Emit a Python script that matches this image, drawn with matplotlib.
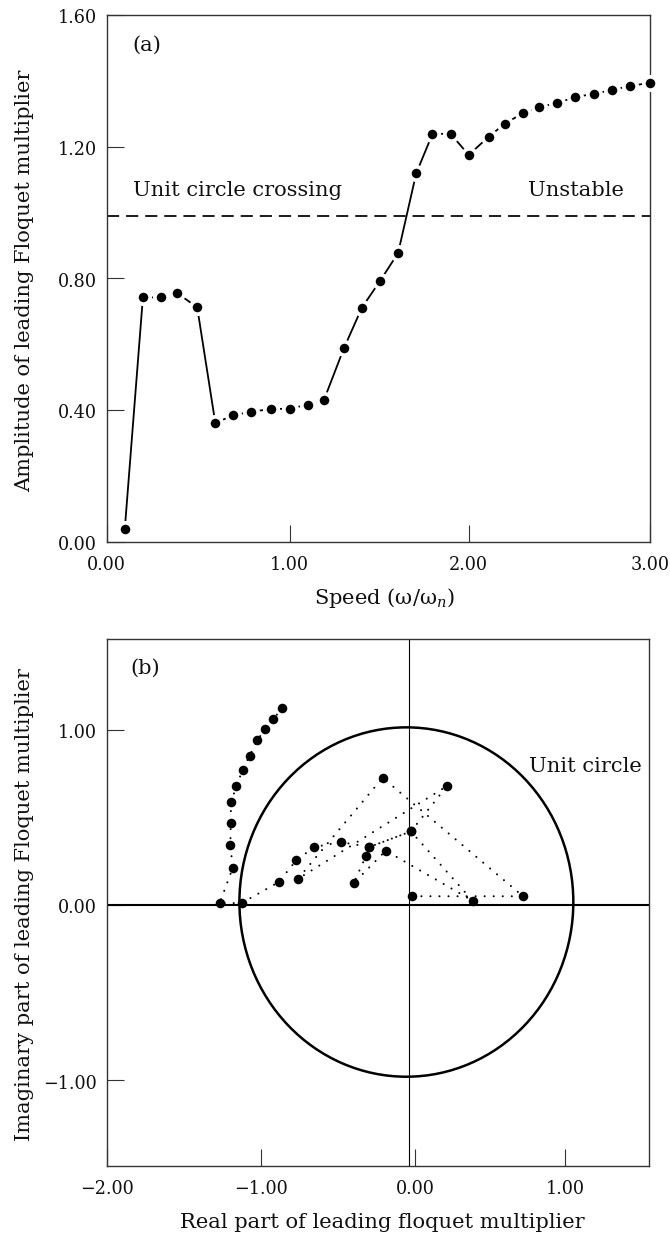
import matplotlib
matplotlib.use("Agg")
import matplotlib.pyplot as plt
from matplotlib.patches import Ellipse
from matplotlib.transforms import ScaledTranslation

FONT = "DejaVu Serif"
FS = 12.7
FL = 15.1
plt.rcParams["font.family"] = [FONT]
plt.rcParams["mathtext.fontset"] = "custom"
plt.rcParams["mathtext.rm"] = FONT
plt.rcParams["mathtext.it"] = FONT + ":italic"

W, H = 670, 1237
TXT = "#111111"
FRAME = "#333333"

# Panel (a)
speed = [0.1, 0.2, 0.3, 0.39, 0.5, 0.6, 0.7, 0.8, 0.91, 1.01, 1.11, 1.2, 1.31, 1.41, 1.51,
         1.61, 1.71, 1.8, 1.9, 2.0, 2.11, 2.2, 2.3, 2.39, 2.49, 2.59, 2.69, 2.79, 2.89, 3.0]
amplitude = [0.039, 0.742, 0.742, 0.755, 0.712, 0.361, 0.384, 0.395, 0.403, 0.404, 0.416, 0.430,
             0.587, 0.711, 0.792, 0.877, 1.119, 1.239, 1.239, 1.175, 1.230, 1.270, 1.302, 1.320,
             1.333, 1.351, 1.360, 1.372, 1.384, 1.394]
crossing = 0.99
a_xticks = [0, 1.01, 2.0, 3.0]
a_xlabels = ["0.00", "1.00", "2.00", "3.00"]
a_yticks = [0, 0.4, 0.8, 1.2, 1.6]
a_ylabels = ["0.00", "0.40", "0.80", "1.20", "1.60"]

# Panel (b)
real_part = [-0.001, 0.723, -0.195, -0.751, 0.226, -0.010, 0.393, -0.175, -0.385, -0.304, -0.282,
             -0.010, -0.282, -0.468, -0.642, -0.760, -0.875, -1.117, -1.261, -1.176, -1.191,
             -1.189, -1.187, -1.152, -1.111, -1.065, -1.015, -0.963, -0.910, -0.856]
imag_part = [0.050, 0.050, 0.726, 0.148, 0.679, 0.420, 0.025, 0.310, 0.124, 0.280, 0.331,
             0.420, 0.331, 0.359, 0.331, 0.255, 0.131, 0.011, 0.011, 0.211, 0.344,
             0.466, 0.586, 0.677, 0.772, 0.852, 0.939, 1.006, 1.059, 1.122]
b_xticks = [-2, -0.993, 0.016, 1.0]
b_xlabels = ["\u22122.00", "\u22121.00", "0.00", "1.00"]
b_yticks = [-1, 0, 1]
b_ylabels = ["\u22121.00", "0.00", "1.00"]
circle_center = (-0.04, 0.017)
circle_axes = (1.092, 0.9966)
vline_x = -0.025

fig = plt.figure(figsize=(W / 100, H / 100), dpi=100, facecolor="white")


def make_axes(left, top, right, bottom):
    return fig.add_axes([left / W, 1 - bottom / H, (right - left) / W, (bottom - top) / H])


def txt(px, py, s, **kw):
    kw.setdefault("ha", "left")
    kw.setdefault("va", "center")
    kw.setdefault("fontsize", FL)
    kw.setdefault("color", TXT)
    fig.text(px / W, 1 - py / H, s, **kw)


def style(ax):
    for s in ax.spines.values():
        s.set_linewidth(1.0)
        s.set_color(FRAME)
    ax.tick_params(direction="in", length=12.5, width=0.8, color=FRAME,
                   labelsize=FS, labelcolor=TXT)
    ax.tick_params(axis="x", pad=10)
    ax.tick_params(axis="y", pad=7)
    shift = ScaledTranslation(0, -2.5 / 72, fig.dpi_scale_trans)
    for lab in ax.get_yticklabels():
        lab.set_verticalalignment("center")
        lab.set_transform(lab.get_transform() + shift)


# ---- (a)
ax = make_axes(106.7, 15, 649.7, 541.7)
ax.set_xlim(0, 3)
ax.set_ylim(0, 1.6)
ax.set_xticks(a_xticks, a_xlabels)
ax.set_yticks(a_yticks, a_ylabels)
style(ax)
ax.axhline(crossing, color="black", lw=1.25, ls=(0, (7, 4)), zorder=2)
ax.plot(speed, amplitude, color="black", lw=1.3, marker="o", ms=9.6, mfc="black",
        mec="white", mew=2.7, clip_on=False, zorder=3)

# ---- (b)
bx = make_axes(106.7, 639.3, 648.7, 1166)
bx.set_xlim(-2, 1.545)
bx.set_ylim(-1.489, 1.516)
bx.set_xticks(b_xticks, b_xlabels)
bx.set_yticks(b_yticks, b_ylabels)
style(bx)
bx.axhline(0, color="black", lw=1.5, zorder=2)
bx.axvline(vline_x, color="black", lw=0.8, zorder=2)
bx.add_patch(Ellipse(circle_center, 2 * circle_axes[0], 2 * circle_axes[1], fill=False,
                     ec="black", lw=1.8, zorder=2))
bx.plot(real_part, imag_part, color="black", lw=1.5, ls=(0, (0.01, 4.33)),
        dash_capstyle="round", zorder=3)
bx.plot(real_part, imag_part, ls="none", marker="o", ms=6.9, mfc="black", mew=0, zorder=4)

# ---- text
txt(132, 45, "(a)")
txt(133, 190, "Unit circle crossing")
txt(528, 190, "Unstable")
txt(130, 668, "(b)")
txt(529, 767, "Unit circle")
txt(385, 598, "Speed (\u03c9/\u03c9$_{n}$)", ha="center")
txt(382, 1222, "Real part of leading floquet multiplier", ha="center")
txt(25, 281, "Amplitude of leading Floquet multiplier", ha="center", rotation=90)
txt(25, 905, "Imaginary part of leading Floquet multiplier", ha="center", rotation=90)

fig.savefig("out.png", dpi=100)
